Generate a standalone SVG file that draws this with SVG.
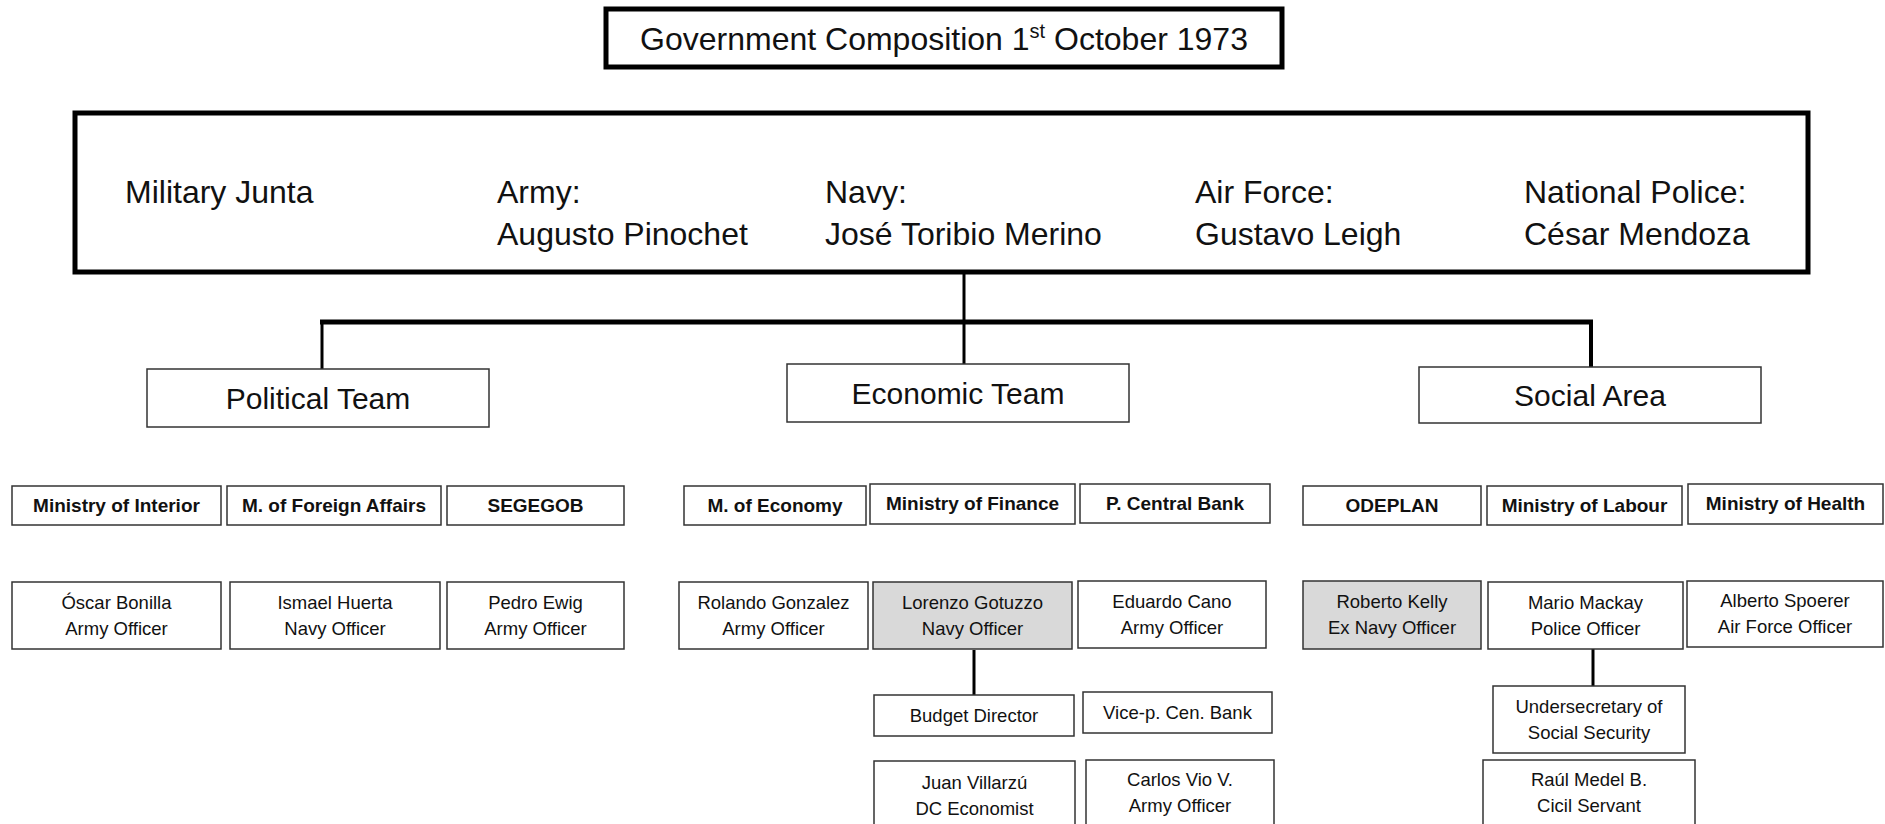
<svg xmlns="http://www.w3.org/2000/svg" width="1885" height="824" viewBox="0 0 1885 824">
<style>
  text { font-family: "Liberation Sans", Arial, sans-serif; fill: #111; text-anchor: middle; }
  .big { font-size: 32px; text-anchor: start; }
  .team { font-size: 30px; }
  .min { font-size: 19px; font-weight: bold; }
  .sm { font-size: 18.5px; }
  .heavy { fill: #fff; stroke: #000; stroke-width: 5; }
  .box { fill: #fff; stroke: #333; stroke-width: 1.5; }
  .grey { fill: #d9d9d9; stroke: #333; stroke-width: 1.5; }
  .wire { stroke: #000; fill: none; }
</style>
<rect width="1885" height="824" fill="#fff"/>

<!-- connectors -->
<g id="connectors">
  <line class="wire" x1="964" y1="273" x2="964" y2="364" stroke-width="3"/>
  <line class="wire" x1="320" y1="322" x2="1593" y2="322" stroke-width="5"/>
  <line class="wire" x1="322" y1="322" x2="322" y2="369" stroke-width="3"/>
  <line class="wire" x1="1591" y1="322" x2="1591" y2="367" stroke-width="4"/>
  <line class="wire" x1="974" y1="650" x2="974" y2="695" stroke-width="3"/>
  <line class="wire" x1="1593" y1="649" x2="1593" y2="686" stroke-width="3"/>
</g>

<!-- heading -->
<g id="title">
  <rect class="heavy" x="606" y="9" width="676" height="58" stroke-width="4"/>
  <text x="944" y="50" style="font-size:32px">Government Composition 1<tspan font-size="20" dy="-12">st</tspan><tspan dy="12"> October 1973</tspan></text>
</g>

<!-- junta -->
<g id="junta">
  <rect class="heavy" x="75" y="113" width="1733" height="159"/>
  <text class="big" x="125" y="203">Military Junta</text>
  <text class="big" x="497" y="203">Army:</text>
  <text class="big" x="497" y="245">Augusto Pinochet</text>
  <text class="big" x="825" y="203">Navy:</text>
  <text class="big" x="825" y="245">José Toribio Merino</text>
  <text class="big" x="1195" y="203">Air Force:</text>
  <text class="big" x="1195" y="245">Gustavo Leigh</text>
  <text class="big" x="1524" y="203">National Police:</text>
  <text class="big" x="1524" y="245">César Mendoza</text>
</g>

<!-- teams -->
<g id="political-team">
  <rect class="box" x="147" y="369" width="342" height="58"/>
  <text class="team" x="318" y="409">Political Team</text>
</g>
<g id="economic-team">
  <rect class="box" x="787" y="364" width="342" height="58"/>
  <text class="team" x="958" y="404">Economic Team</text>
</g>
<g id="social-area">
  <rect class="box" x="1419" y="367" width="342" height="56"/>
  <text class="team" x="1590" y="406">Social Area</text>
</g>

<!-- ministries -->
<g id="min-interior"><rect class="box" x="12" y="486" width="209" height="39"/><text class="min" x="116.5" y="512">Ministry of Interior</text></g>
<g id="min-foreign"><rect class="box" x="227" y="486" width="214" height="39"/><text class="min" x="334" y="512">M. of Foreign Affairs</text></g>
<g id="min-segegob"><rect class="box" x="447" y="486" width="177" height="39"/><text class="min" x="535.5" y="512">SEGEGOB</text></g>
<g id="min-economy"><rect class="box" x="684" y="486" width="182" height="39"/><text class="min" x="775" y="512">M. of Economy</text></g>
<g id="min-finance"><rect class="box" x="870" y="484" width="205" height="40"/><text class="min" x="972.5" y="510">Ministry of Finance</text></g>
<g id="central-bank"><rect class="box" x="1080" y="484" width="190" height="39"/><text class="min" x="1175" y="510">P. Central Bank</text></g>
<g id="odeplan"><rect class="box" x="1303" y="486" width="178" height="39"/><text class="min" x="1392" y="512">ODEPLAN</text></g>
<g id="min-labour"><rect class="box" x="1487" y="486" width="195" height="39"/><text class="min" x="1584.5" y="512">Ministry of Labour</text></g>
<g id="min-health"><rect class="box" x="1688" y="484" width="195" height="40"/><text class="min" x="1785.5" y="510">Ministry of Health</text></g>

<!-- office holders -->
<g id="bonilla"><rect class="box" x="12" y="582" width="209" height="67"/><text class="sm" x="116.5" y="609">Óscar Bonilla</text><text class="sm" x="116.5" y="635">Army Officer</text></g>
<g id="huerta"><rect class="box" x="230" y="582" width="210" height="67"/><text class="sm" x="335" y="609">Ismael Huerta</text><text class="sm" x="335" y="635">Navy Officer</text></g>
<g id="ewig"><rect class="box" x="447" y="582" width="177" height="67"/><text class="sm" x="535.5" y="609">Pedro Ewig</text><text class="sm" x="535.5" y="635">Army Officer</text></g>
<g id="gonzalez"><rect class="box" x="679" y="582" width="189" height="67"/><text class="sm" x="773.5" y="609">Rolando Gonzalez</text><text class="sm" x="773.5" y="635">Army Officer</text></g>
<g id="gotuzzo"><rect class="grey" x="873" y="582" width="199" height="67"/><text class="sm" x="972.5" y="609">Lorenzo Gotuzzo</text><text class="sm" x="972.5" y="635">Navy Officer</text></g>
<g id="cano"><rect class="box" x="1078" y="581" width="188" height="67"/><text class="sm" x="1172" y="608">Eduardo Cano</text><text class="sm" x="1172" y="634">Army Officer</text></g>
<g id="kelly"><rect class="grey" x="1303" y="581" width="178" height="68"/><text class="sm" x="1392" y="608">Roberto Kelly</text><text class="sm" x="1392" y="634">Ex Navy Officer</text></g>
<g id="mackay"><rect class="box" x="1488" y="582" width="195" height="67"/><text class="sm" x="1585.5" y="609">Mario Mackay</text><text class="sm" x="1585.5" y="635">Police Officer</text></g>
<g id="spoerer"><rect class="box" x="1687" y="581" width="196" height="66"/><text class="sm" x="1785" y="607">Alberto Spoerer</text><text class="sm" x="1785" y="633">Air Force Officer</text></g>

<!-- second level posts -->
<g id="budget-director"><rect class="box" x="874" y="695" width="200" height="41"/><text class="sm" x="974" y="722">Budget Director</text></g>
<g id="vice-bank"><rect class="box" x="1083" y="692" width="189" height="41"/><text class="sm" x="1177.5" y="719">Vice-p. Cen. Bank</text></g>
<g id="undersecretary"><rect class="box" x="1493" y="686" width="192" height="67"/><text class="sm" x="1589" y="713">Undersecretary of</text><text class="sm" x="1589" y="739">Social Security</text></g>
<g id="villarzu"><rect class="box" x="874" y="761" width="201" height="70"/><text class="sm" x="974.5" y="789">Juan Villarzú</text><text class="sm" x="974.5" y="815">DC Economist</text></g>
<g id="vio"><rect class="box" x="1086" y="760" width="188" height="70"/><text class="sm" x="1180" y="786">Carlos Vio V.</text><text class="sm" x="1180" y="812">Army Officer</text></g>
<g id="medel"><rect class="box" x="1483" y="760" width="212" height="70"/><text class="sm" x="1589" y="786">Raúl Medel B.</text><text class="sm" x="1589" y="812">Cicil Servant</text></g>
</svg>
